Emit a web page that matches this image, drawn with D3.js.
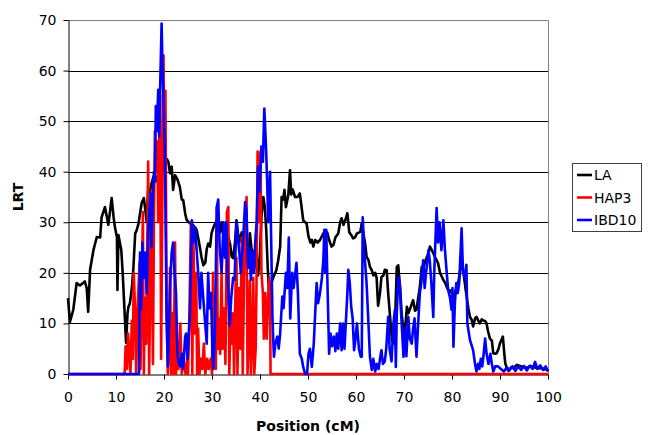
<!DOCTYPE html>
<html>
<head>
<meta charset="utf-8">
<title>LRT by position</title>
<script src="https://d3js.org/d3.v7.min.js"></script>
<style>
body { margin: 0; background: #fff; }
text { font-family: "DejaVu Sans", Verdana, sans-serif; }
</style>
</head>
<body>
<div id="chart"></div>
<script>
// tick values
var xTicks = [0, 10, 20, 30, 40, 50, 60, 70, 80, 90, 100];
var yTicks = [0, 10, 20, 30, 40, 50, 60, 70];

var seriesNames = ["LA", "HAP3", "IBD10"];
var seriesColors = ["#000000", "#ff0000", "#0000ff"];

// LA: [position cM, LRT]
var laData = [[0,15],[0.4,10.3],[1.1,12.7],[1.8,18],[2.5,17.5],[3.5,18.3],[3.9,17],[4.2,12.3],[4.6,20.6],[5.3,24.5],[6.0,27.1],[6.7,27],[7.0,31],[7.7,33],[8.4,29.5],[9.1,34.8],[9.5,31],[9.8,28.9],[10.2,27],[10.3,16.6],[10.5,27.5],[10.8,26],[11.1,24.5],[11.4,19.9],[11.8,12],[12.1,6.2],[12.4,12],[12.6,13.3],[12.9,14],[13.3,17],[13.6,20.6],[14.0,27.8],[14.3,28.4],[14.7,29.8],[15.35,33.8],[15.8,34.8],[16.1,32.5],[16.4,30],[16.7,36.4],[17.0,35.7],[17.4,37.7],[17.8,39],[18.2,38],[18.5,39],[18.8,38.4],[19.2,41],[19.6,40],[19.9,43],[20.2,41.7],[20.6,42.5],[20.9,42],[21.25,39.7],[21.6,41],[21.9,36.4],[22.3,39.3],[22.8,38.5],[23.3,37],[23.7,34.5],[24.0,34.4],[24.4,31.8],[24.7,30.5],[25.4,29.8],[26.0,29.5],[26.8,28.5],[27.3,26],[27.8,23.2],[28.2,21.5],[28.6,22],[28.9,24.7],[29.2,25.8],[29.6,25.2],[29.9,27.8],[30.3,29],[31.0,30.4],[31.4,29],[31.7,28],[32.0,30],[32.4,27.2],[33.0,29.8],[33.4,27],[33.75,25.8],[34.1,23.2],[34.4,22.9],[34.8,26],[35.1,30.4],[35.4,28],[35.7,26],[36.2,28],[36.5,27.5],[36.9,25.2],[37.2,23.5],[37.6,22.5],[37.9,27.8],[38.2,25],[38.6,22.5],[38.9,24.5],[39.2,21.5],[39.6,19.5],[40.0,24],[40.3,31.1],[40.7,35],[41.0,33],[41.3,28.5],[41.6,21.2],[41.9,16],[42.2,17.5],[42.8,19.2],[43.4,20.5],[43.8,22.5],[44.2,25.2],[44.5,35],[44.8,34.5],[45.1,36.4],[45.4,33],[45.9,35.4],[46.25,40.3],[46.5,35.5],[46.8,36.5],[47.3,35],[47.8,35],[48.3,35.7],[48.6,33.5],[49.0,30.4],[49.4,30],[49.7,29.8],[50.1,27.2],[50.5,26],[50.8,26.5],[51.1,25.2],[51.5,26.5],[52.0,26],[52.5,26.5],[53.2,27.8],[53.6,26.5],[54.0,28],[54.4,26.5],[54.9,25.2],[55.3,25.5],[55.7,27],[56.3,27.8],[56.7,30],[57.0,30.8],[57.4,29.5],[57.8,30.5],[58.2,31.8],[58.6,28],[59.0,27.5],[59.4,26.8],[59.8,27],[60.2,27.8],[60.9,28.1],[61.2,29.8],[61.5,28],[61.9,25.8],[62.2,23.2],[62.6,22.5],[62.9,21.2],[63.3,20.5],[63.6,19.5],[64.0,20],[64.3,19],[64.6,13.5],[65.0,16],[65.3,19.2],[65.7,19.5],[66.0,20.6],[66.4,20.5],[66.7,16],[67.1,11.3],[67.5,6.5],[67.9,6],[68.2,12],[68.5,21.2],[68.8,21.5],[69.2,17],[69.5,12],[69.9,8.7],[70.2,8.4],[70.6,13.3],[70.9,12],[71.3,13],[71.9,14.6],[72.3,12.5],[72.6,12.7],[73.0,15.3],[73.3,17.2],[73.7,21.2],[74.0,21],[74.5,22.5],[75.1,23.9],[75.4,25.2],[75.8,24.5],[76.1,23.9],[76.5,23],[76.8,22.5],[77.1,21.9],[77.5,20],[78.2,18.6],[78.6,18],[78.9,17.2],[79.2,16.6],[79.6,16.5],[80.0,16],[80.3,14.5],[80.6,16],[81.0,17.2],[81.3,18],[81.7,20.5],[82.1,21.9],[82.4,20],[82.8,17],[83.1,15],[83.4,13],[83.75,11.3],[84.1,10.7],[84.4,9.4],[84.8,11],[85.1,11.3],[85.5,10.5],[85.8,10],[86.2,10.8],[86.5,10.6],[86.9,10.5],[87.2,10],[87.5,8.5],[87.9,7],[88.3,6.6],[88.6,4.1],[89.0,4],[89.3,4.1],[89.7,5],[90.0,6.1],[90.6,7.4],[90.9,4],[91.1,2.1],[91.5,1],[91.8,0.6],[92.3,1.3],[92.8,1.2],[93.5,1.8],[94.2,1.6],[94.8,1.4],[95.6,1.2],[96.3,1.6],[97.0,1.4],[97.7,1.1],[98.4,1.2],[99.0,1.0],[99.7,0.9],[100,0.6]];

// HAP3
var hap3Data = [[0,0],[11.8,0],[12.0,5.5],[12.3,1],[12.5,8],[12.8,4],[13.0,0],[13.3,10.5],[13.5,3],[13.7,20],[14.0,12],[14.2,0],[14.5,13],[14.9,22],[15.1,1],[15.4,18],[15.6,32],[15.8,0],[16.0,15],[16.3,6],[16.7,42],[16.9,0],[17.2,20],[17.4,36],[17.7,2],[17.9,30],[18.1,48],[18.4,40],[18.6,46],[18.8,30],[19.0,46],[19.2,55],[19.4,3],[19.9,63],[20.1,40],[20.3,56],[20.55,12],[20.8,0],[21.0,4],[21.25,21],[21.5,0],[21.8,12],[22.0,0],[22.3,26],[22.5,0],[22.8,6],[23.0,1],[23.4,10],[23.7,0],[24.0,3],[24.5,0],[24.8,3],[25.0,0],[25.3,12],[25.6,30],[25.9,0],[26.1,29],[26.4,8],[26.7,20],[26.9,0],[27.1,9],[27.4,0],[27.7,3],[28.0,1],[28.3,6],[28.6,0],[29.0,3],[29.3,1],[29.7,3],[30.0,0],[30.2,20],[30.4,2],[30.6,9],[30.8,1],[31.0,33],[31.2,5],[31.4,11],[31.7,4],[32.0,20],[32.2,5],[32.5,13],[32.8,2],[33.1,32],[33.4,33],[33.6,0],[33.9,12],[34.1,6],[34.4,12],[34.6,0],[34.9,17],[35.1,23],[35.3,0],[35.6,17],[35.9,5],[36.2,27],[36.4,0],[36.7,20],[36.9,27],[37.2,35],[37.4,0],[37.7,10],[37.9,18.5],[38.1,0],[38.4,8],[38.6,19],[38.8,0],[39.1,5],[39.3,20],[39.5,44],[39.7,30],[39.9,41],[40.1,44],[40.3,20],[40.6,16],[40.8,7],[41.1,16],[41.4,7],[41.7,15],[41.9,19],[42.1,16],[42.2,0],[100,0]];

// IBD10
var ibd10Data = [[0,0],[14.8,0],[15.0,24],[15.2,12.7],[15.5,26],[15.8,19],[16.1,24],[16.4,16],[16.7,28],[16.9,31],[17.2,35.7],[17.4,25],[17.6,33.4],[17.9,40],[18.1,38],[18.3,53],[18.5,48],[18.8,56.2],[19.0,47],[19.2,56.8],[19.5,69.3],[19.7,60],[19.9,54],[20.2,42.3],[20.4,24],[20.55,11],[20.8,1.5],[21.0,8],[21.3,18],[21.6,24],[21.9,26],[22.2,20],[22.5,16],[22.8,4],[23.1,2],[23.4,1.5],[23.7,4],[24.0,1],[24.4,7.4],[24.6,8],[24.9,3],[25.4,12],[25.8,30.4],[26.1,26],[26.5,29],[26.9,23],[27.2,19],[27.5,13],[27.8,20],[28.1,16],[28.5,11],[28.9,6],[29.2,20],[29.5,13],[29.8,16],[30.1,4],[30.3,1],[30.6,8],[31.0,33],[31.3,34.5],[31.6,25],[32.0,20],[32.4,30],[32.7,23],[33.0,30],[33.3,18],[33.7,9.5],[34.0,15],[34.4,19],[34.7,18.6],[35.1,30],[35.4,27],[35.7,24],[36.0,20],[36.4,25],[36.9,34],[37.2,32],[37.5,21],[37.8,25],[38.1,18.6],[38.4,24],[38.7,20],[39.0,26],[39.3,30],[39.6,41],[39.9,36],[40.3,45],[40.6,42],[40.9,52.5],[41.2,46],[41.5,38],[41.7,30],[42.1,40],[42.3,28],[42.6,11],[42.9,3.4],[43.2,6],[43.6,7.4],[43.9,5],[44.2,8],[44.65,15.3],[44.9,13],[45.4,20],[45.7,17],[46.0,27],[46.3,11],[46.7,20],[47.0,17],[47.6,22],[47.9,16],[48.3,4],[48.7,3],[49.0,1.4],[49.4,0],[49.8,0],[50.1,4],[50.4,5],[50.8,1.4],[51.2,6],[51.8,18],[52.1,14],[52.5,16],[52.9,19],[53.2,22.5],[53.4,28.5],[53.6,20],[53.8,28.5],[54.1,16],[54.4,4],[54.7,8],[55.0,5.5],[55.4,7.4],[55.7,4.5],[56.0,8],[56.3,5],[56.7,10],[57.0,4.7],[57.3,10],[57.6,5],[57.9,10.5],[58.2,16],[58.4,20.6],[58.7,18],[59.0,13.3],[59.3,11],[59.6,4.7],[59.9,7],[60.2,10],[60.6,5],[61.0,3.4],[61.2,3.4],[61.4,31],[61.7,24.5],[62.2,18],[62.5,12],[62.9,3.4],[63.3,0.8],[63.6,3],[64.0,0.5],[64.3,2],[64.7,1],[65.0,3],[65.3,4.7],[65.6,2],[66.0,2.5],[66.3,5],[66.7,11.3],[67.0,5],[67.4,2.5],[67.8,10],[68.1,12.7],[68.3,1.4],[68.5,12],[68.8,19.2],[69.1,18],[69.4,12],[69.9,3.4],[70.2,9],[70.5,3.5],[70.9,11.3],[71.2,7],[71.6,6],[71.9,9],[72.2,11],[72.6,3.4],[72.9,9],[73.3,16],[73.6,18],[74.0,22.5],[74.3,17],[74.7,21],[75.1,24.5],[75.4,22],[75.7,18],[76.1,11.3],[76.3,20],[76.6,27.8],[76.8,32.8],[77.1,26],[77.4,30],[77.8,24.5],[78.2,30.4],[78.5,25],[78.9,20],[79.2,16.6],[79.6,15],[79.9,12.7],[80.1,17],[80.3,5.4],[80.6,14],[80.9,18],[81.2,16],[81.5,18],[82.0,28.8],[82.3,20],[82.7,19],[83.0,21.6],[83.2,10],[83.75,6.7],[84.4,4.7],[84.8,2],[85.1,0.5],[85.4,2],[85.7,1],[86.0,3],[86.3,1.5],[86.6,4],[86.9,7],[87.2,4],[87.6,2],[88.0,4],[88.3,2],[88.6,0.5],[89.0,1.5],[89.6,1.5],[90.2,1],[90.8,0.5],[91.4,1.3],[92.0,0.8],[92.6,1.5],[93.2,0.6],[93.8,1.5],[94.4,0.8],[95.0,1.6],[95.6,0.7],[96.2,1.6],[96.8,1],[97.3,2.4],[97.8,1],[98.4,1.7],[99.0,0.8],[99.5,1.5],[100,0.5]];

var allSeries = [laData, hap3Data, ibd10Data];

var width = 649, height = 435;
var plotLeft = 68, plotRight = 548, plotTop = 20, plotBottom = 374;

var svg = d3.select("#chart")
	.append("svg")
	.attr("width", width)
	.attr("height", height);

var x = d3.scaleLinear().domain([0, 100]).range([plotLeft, plotRight]);
var y = d3.scaleLinear().domain([0, 70]).range([plotBottom, plotTop]);

//gridlines
svg.append("g")
	.selectAll("line")
	.data(yTicks.slice(1, -1))
	.enter().append("line")
	.attr("x1", plotLeft).attr("x2", plotRight)
	.attr("y1", function(d) { return Math.round(y(d)) + 0.5; })
	.attr("y2", function(d) { return Math.round(y(d)) + 0.5; })
	.attr("stroke", "#000")
	.attr("stroke-width", 1);

//plot area border (top and right)
svg.append("path")
	.attr("d", "M" + plotLeft + "," + (plotTop + 0.5) + "H" + (plotRight + 0.5) + "V" + plotBottom)
	.attr("fill", "none")
	.attr("stroke", "#808080")
	.attr("stroke-width", 1);

//axes
var yAxis = svg.append("g")
	.attr("transform", "translate(" + (plotLeft + 0.5) + ",0)")
	.call(d3.axisLeft(y).tickValues(yTicks).tickSize(5).tickPadding(7).tickSizeOuter(0));

var xAxis = svg.append("g")
	.attr("transform", "translate(0," + (plotBottom + 0.5) + ")")
	.call(d3.axisBottom(x).tickValues(xTicks).tickSize(5).tickPadding(13).tickSizeOuter(0));

[xAxis, yAxis].forEach(function(a) {
	a.selectAll("path, line").attr("stroke", "#000");
	a.selectAll("text")
		.attr("fill", "#000")
		.style("font-size", "14px")
		.style("font-family", "'DejaVu Sans', Verdana, sans-serif");
});

//series lines
var line = d3.line()
	.x(function(d) { return x(d[0]); })
	.y(function(d) { return y(d[1]); });

svg.append("g")
	.selectAll("path")
	.data(allSeries)
	.enter().append("path")
	.attr("d", line)
	.attr("fill", "none")
	.attr("stroke", function(d, i) { return seriesColors[i]; })
	.attr("stroke-width", 2.6)
	.attr("stroke-linejoin", "round");

//axis titles
svg.append("text")
	.attr("x", 308)
	.attr("y", 431)
	.attr("text-anchor", "middle")
	.style("font-size", "14px")
	.style("font-weight", "bold")
	.text("Position (cM)");

svg.append("text")
	.attr("transform", "translate(23,197) rotate(-90)")
	.attr("text-anchor", "middle")
	.style("font-size", "14px")
	.style("font-weight", "bold")
	.text("LRT");

//legend
var legend = svg.append("g");
legend.append("rect")
	.attr("x", 572.5).attr("y", 163.5)
	.attr("width", 69).attr("height", 68)
	.attr("fill", "#fff")
	.attr("stroke", "#404040");

var rows = legend.selectAll("g.row")
	.data(seriesNames)
	.enter().append("g")
	.attr("class", "row")
	.attr("transform", function(d, i) { return "translate(0," + (175 + i * 22.5) + ")"; });

rows.append("line")
	.attr("x1", 577).attr("x2", 592)
	.attr("y1", 0).attr("y2", 0)
	.attr("stroke", function(d, i) { return seriesColors[i]; })
	.attr("stroke-width", 2.6);

rows.append("text")
	.attr("x", 594)
	.attr("y", 5)
	.style("font-size", "14px")
	.text(function(d) { return d; });
</script>
</body>
</html>
